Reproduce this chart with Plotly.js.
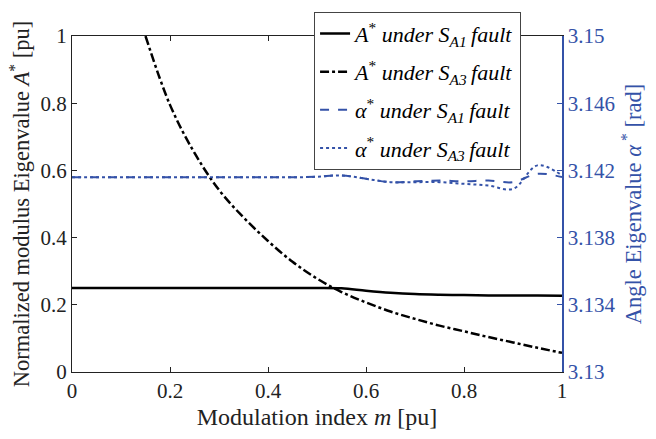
<!DOCTYPE html>
<html>
<head>
<meta charset="utf-8">
<script src="https://cdn.plot.ly/plotly-3.0.1.min.js"></script>
</head>
<body style="margin:0;padding:0;background:#fff">
<div id="chart" style="width:656px;height:439px"></div>
<script>
// Data
const mGrid = [0,0.05,0.1,0.15,0.2,0.25,0.3,0.35,0.4,0.45,0.5,0.55,0.6,0.65,0.7,0.75,0.8,0.85,0.9,0.95,1.0];
const modA1 = [0.25,0.25,0.25,0.25,0.25,0.25,0.25,0.25,0.25,0.25,0.25,0.249,0.242,0.236,0.232,0.230,0.229,0.228,0.228,0.2275,0.227];
const mA3 = [0.15,0.2,0.25,0.3,0.35,0.4,0.45,0.5,0.55,0.6,0.65,0.7,0.75,0.8,0.85,0.9,0.95,1.0];
const modA3 = [1.0,0.795,0.652,0.542,0.46,0.39,0.328,0.278,0.238,0.207,0.18,0.158,0.138,0.121,0.104,0.088,0.072,0.057];
const angA1 = [3.14159,3.14159,3.14159,3.14159,3.14159,3.14159,3.14159,3.14159,3.14159,3.14159,3.14162,3.1417,3.1415,3.1413,3.14135,3.1414,3.14135,3.1414,3.1413,3.1418,3.1416];
const angA3 = [3.14159,3.14159,3.14159,3.14159,3.14159,3.14159,3.14159,3.14159,3.14159,3.14159,3.14162,3.1417,3.1415,3.1413,3.1413,3.1413,3.1412,3.1411,3.1409,3.1423,3.1417];
const xTicks = [0,0.2,0.4,0.6,0.8,1];
const xTickText = ['0','0.2','0.4','0.6','0.8','1'];
const yTicks = [0,0.2,0.4,0.6,0.8,1];
const yTickText = ['0','0.2','0.4','0.6','0.8','1'];
const y2Ticks = [3.13,3.134,3.138,3.142,3.146,3.15];
const y2TickText = ['3.13','3.134','3.138','3.142','3.146','3.15'];
const names = [
  '<i>A</i><sup>*</sup> <i>under S</i><sub><i>A1</i></sub><i>\u2009fault</i>',
  '<i>A</i><sup>*</sup> <i>under S</i><sub><i>A3</i></sub><i>\u2009fault</i>',
  '<i>\u03b1</i><sup>*</sup> <i>under S</i><sub><i>A1</i></sub><i>\u2009fault</i>',
  '<i>\u03b1</i><sup>*</sup> <i>under S</i><sub><i>A3</i></sub><i>\u2009fault</i>'
];

const BLUE = 'rgb(52,82,168)';
const SERIF = 'Liberation Serif';

const traces = [
  {x: mGrid, y: modA1, name: names[0], legendgroup: 'g1', mode: 'lines', line: {color: '#000', width: 2.5, shape: 'spline'}},
  {x: mA3, y: modA3, name: names[1], legendgroup: 'g2', mode: 'lines', line: {color: '#000', width: 2.5, dash: 'dashdot', shape: 'spline'}},
  {x: mGrid, y: angA1, name: names[2], legendgroup: 'g3', yaxis: 'y2', mode: 'lines', line: {color: BLUE, width: 2, dash: 'dash', shape: 'spline'}},
  {x: mGrid, y: angA3, name: names[3], legendgroup: 'g4', yaxis: 'y2', mode: 'lines', line: {color: BLUE, width: 2, dash: 'dot', shape: 'spline'}}
];

const layout = {
  width: 656, height: 439,
  margin: {l: 72, r: 94, t: 25, b: 67},
  paper_bgcolor: '#fff', plot_bgcolor: '#fff',
  showlegend: true,
  legend: {
    x: 0.494, xanchor: 'left', y: 1.072, yanchor: 'top',
    bgcolor: '#fff', bordercolor: '#444', borderwidth: 1,
    font: {family: SERIF, size: 22, color: '#000'},
    tracegroupgap: 6.5, itemwidth: 30, traceorder: 'grouped'
  },
  xaxis: {
    range: [0, 1], tickvals: xTicks, ticktext: xTickText,
    ticks: 'inside', ticklen: 5, tickcolor: '#222', tickwidth: 1,
    showline: true, linecolor: '#222', linewidth: 1, mirror: 'ticks',
    showgrid: false, zeroline: false,
    tickfont: {family: SERIF, size: 21, color: '#222'},
    title: {text: 'Modulation index <i>m</i> [pu]', font: {family: SERIF, size: 24, color: '#222'}, standoff: 5}
  },
  yaxis: {
    range: [0, 1], tickvals: yTicks, ticktext: yTickText,
    ticks: 'inside', ticklen: 5, tickcolor: '#222', tickwidth: 1,
    showline: true, linecolor: '#222', linewidth: 1, mirror: false,
    showgrid: false, zeroline: false,
    tickfont: {family: SERIF, size: 21, color: '#222'},
    title: {text: 'Normalized modulus Eigenvalue <i>A</i><sup>*</sup> [pu]', font: {family: SERIF, size: 22.5, color: '#222'}, standoff: 4}
  },
  yaxis2: {
    overlaying: 'y', side: 'right',
    range: [3.13, 3.15], tickvals: y2Ticks, ticktext: y2TickText,
    ticks: 'inside', ticklen: 5, tickcolor: BLUE, tickwidth: 1,
    showline: true, linecolor: BLUE, linewidth: 1.5,
    showgrid: false, zeroline: false,
    tickfont: {family: SERIF, size: 21, color: BLUE},
    title: {text: 'Angle Eigenvalue <i>\u03b1</i><sup> *</sup> [rad]', font: {family: SERIF, size: 22.5, color: BLUE}, standoff: 11}
  }
};

Plotly.newPlot('chart', traces, layout, {staticPlot: true});
</script>
</body>
</html>
